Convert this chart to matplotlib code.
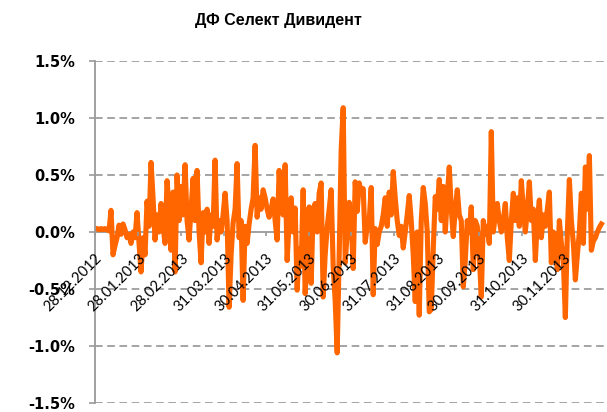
import numpy as np
import pandas as pd
import matplotlib
matplotlib.use("Agg")
import matplotlib.pyplot as plt
import matplotlib.dates as mdates
from matplotlib.ticker import FuncFormatter

TITLE = "ДФ Селект Дивидент"
START = "2012-12-28"
END = "2013-12-27"

# daily return, %
returns = [
    0.03, 0.03, 0.02, 0.03, 0.02, 0.03, 0.02, 0.01, 0.19, -0.20,
    -0.12, -0.05, 0.06, -0.02, 0.07, 0.02, -0.05, -0.02, -0.10, 0.00,
    -0.05, 0.17, -0.10, -0.35, -0.05, -0.20, 0.27, 0.05, 0.61, 0.30,
    -0.07, 0.15, 0.00, 0.25, 0.05, -0.10, 0.45, 0.20, -0.16, 0.35,
    -0.35, 0.50, 0.10, 0.40, 0.15, 0.59, 0.10, -0.07, 0.20, 0.47,
    0.10, 0.54, 0.00, -0.27, 0.17, 0.00, 0.20, -0.10, 0.15, 0.05,
    0.63, -0.07, 0.10, 0.00, 0.15, 0.34, 0.10, -0.66, -0.20, 0.08,
    0.20, 0.60, -0.05, 0.10, -0.60, 0.05, -0.10, 0.07, 0.20, 0.30,
    0.76, 0.13, 0.30, 0.20, 0.37, 0.30, 0.20, 0.13, 0.20, 0.29,
    0.10, -0.07, 0.54, 0.20, 0.15, 0.59, -0.25, 0.10, 0.30, 0.00,
    0.21, -0.51, -0.15, -0.30, 0.37, -0.54, -0.20, 0.22, -0.45, 0.20,
    0.25, 0.00, 0.34, 0.43, -0.57, -0.20, 0.04, 0.20, 0.37, -0.30,
    -0.60, -1.06, -0.20, 0.72, 1.09, -0.27, 0.00, 0.26, 0.10, -0.32,
    0.44, 0.18, 0.43, 0.35, 0.38, -0.09, 0.05, 0.10, 0.39, -0.55,
    0.03, -0.11, 0.00, 0.05, 0.15, 0.30, 0.05, 0.35, 0.15, 0.53,
    0.30, 0.10, -0.03, 0.05, -0.14, 0.00, 0.15, 0.32, 0.10, -0.20,
    -0.61, 0.00, -0.73, 0.10, 0.39, 0.25, 0.00, -0.70, -0.68, -0.15,
    0.31, 0.20, 0.46, 0.10, 0.40, 0.00, 0.30, 0.57, 0.20, -0.04,
    0.20, 0.37, 0.15, 0.10, -0.48, -0.25, 0.10, 0.00, 0.22, -0.33,
    0.10, 0.05, -0.20, -0.57, 0.10, -0.02, 0.05, -0.10, 0.88, 0.00,
    0.15, 0.25, 0.10, 0.00, 0.10, 0.25, -0.05, -0.25, 0.10, 0.34,
    0.10, 0.30, 0.05, 0.45, 0.20, 0.00, 0.20, 0.44, 0.10, 0.20,
    -0.25, 0.10, 0.28, -0.05, 0.15, 0.05, 0.20, 0.35, -0.27, 0.00,
    -0.05, -0.33, 0.10, -0.10, -0.25, -0.75, 0.00, 0.46, 0.10, -0.10,
    -0.42, -0.20, 0.00, 0.34, -0.10, 0.57, 0.20, 0.67, -0.16, -0.08,
    -0.05, 0.00, 0.04, 0.07,
]

tick_dates = [
    "2012-12-28", "2013-01-28", "2013-02-28", "2013-03-31",
    "2013-04-30", "2013-05-31", "2013-06-30", "2013-07-31",
    "2013-08-31", "2013-09-30", "2013-10-31", "2013-11-30",
]
y_ticks = [-1.5, -1.0, -0.5, 0.0, 0.5, 1.0, 1.5]


def main():
    dates = pd.date_range(START, END, periods=len(returns))
    vals = np.array(returns) / 100.0

    fig = plt.figure(figsize=(6.07, 4.12), dpi=100)
    ax = fig.add_axes([95 / 607, 9 / 412, 510 / 607, 342 / 412])

    # dashed grid, solid axis at zero
    for t in y_ticks:
        if t != 0:
            ax.axhline(t / 100, color="#8c8c8c", lw=1.1,
                       linestyle=(0, (5, 3)), zorder=1)

    ax.plot(dates, vals, color="#FF6600", lw=3.7, solid_joinstyle="round",
            zorder=2)

    ax.set_ylim(-0.015, 0.015)
    ax.set_xlim(pd.Timestamp(START), pd.Timestamp(START) + pd.Timedelta(days=366.6))
    ax.set_yticks([t / 100 for t in y_ticks])
    ax.yaxis.set_major_formatter(FuncFormatter(lambda v, p: f"{v * 100:.1f}%"))

    for s in ["top", "right"]:
        ax.spines[s].set_visible(False)
    ax.spines["bottom"].set_position(("data", 0))
    ax.spines["bottom"].set_color("#9a9a9a")
    ax.spines["left"].set_color("#9a9a9a")
    ax.spines["bottom"].set_linewidth(1.3)
    ax.spines["left"].set_linewidth(1.3)
    ax.spines["bottom"].set_zorder(1.5)
    ax.xaxis.set_zorder(5)

    ax.set_xticks(pd.to_datetime(tick_dates))
    ax.xaxis.set_major_formatter(mdates.DateFormatter("%d.%m.%Y"))
    ax.tick_params(axis="x", direction="out", length=3, width=1.2,
                   color="#9a9a9a", pad=11)
    ax.tick_params(axis="y", direction="out", length=4, width=1.2,
                   color="#9a9a9a", pad=10)
    for lab in ax.get_xticklabels():
        lab.set_rotation(45)
        lab.set_ha("right")
        lab.set_va("top")
        lab.set_rotation_mode("anchor")
        lab.set_fontfamily("Lato")
        lab.set_fontsize(10.5)
    for lab in ax.get_yticklabels():
        lab.set_fontfamily("DejaVu Sans")
        lab.set_fontweight("bold")
        lab.set_fontsize(10.5)

    fig.text(278 / 607, 1 - 21 / 412, TITLE, ha="center", va="center",
             fontsize=11.5, fontweight="bold", family="Liberation Sans")

    fig.savefig("out.png", dpi=100)


if __name__ == "__main__":
    main()
